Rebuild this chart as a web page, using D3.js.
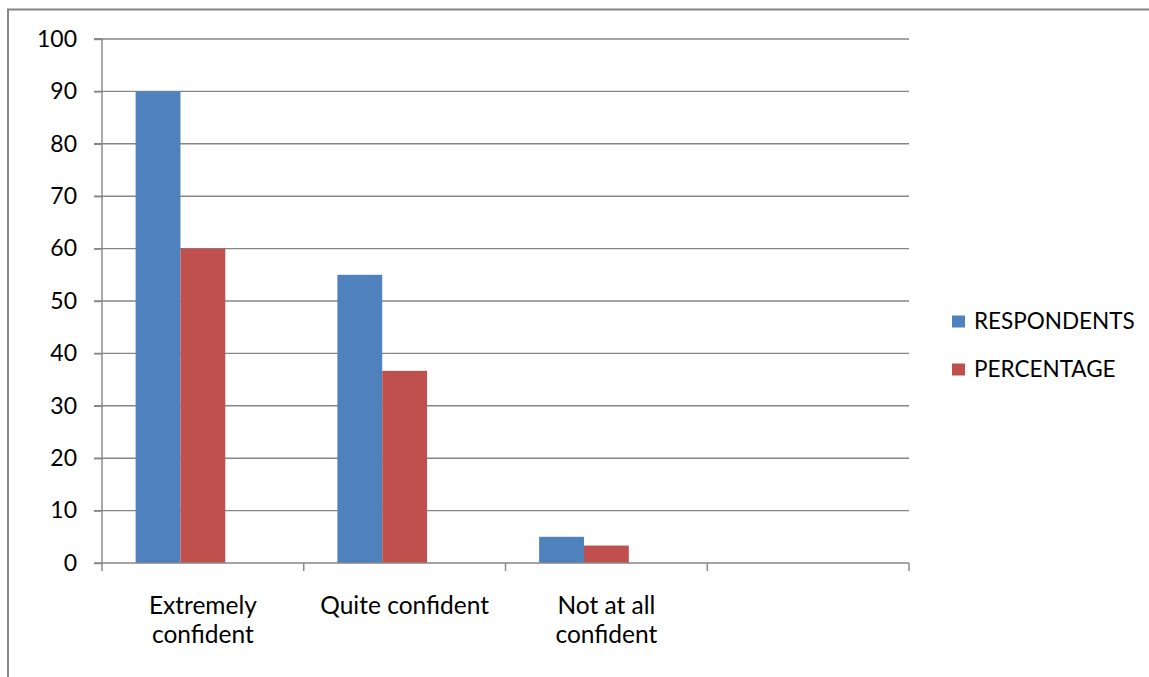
<!DOCTYPE html>
<html><head><meta charset="utf-8">
<script src="https://cdn.jsdelivr.net/npm/d3@7"></script>
<style>body{margin:0;background:#fff}svg{display:block}text{font-family:Lato,"Open Sans",sans-serif}</style>
</head><body>
<svg id="c" width="1149" height="677"></svg>
<script>
const categories = ["Extremely confident","Quite confident","Not at all confident",""];
const seriesNames = ["RESPONDENTS","PERCENTAGE"];
const respondents = [90,55,5,null];
const percentage = [60,36.67,3.33,null];
const yTicks = [0,10,20,30,40,50,60,70,80,90,100];
const colors = ["#4F81BD","#C0504D"];

(function(){
const svg = d3.select("#c");
const W=1149,H=677;
const pL=102,pR=909,pT=39,pB=563;
const fs=23, gridC="#868686";

svg.append("rect").attr("x",8).attr("y",9.5).attr("width",W+20).attr("height",H+20)
  .attr("fill","none").attr("stroke",gridC).attr("stroke-width",2);

const x = d3.scaleBand().domain(categories.map((c,i)=>i)).range([pL,pR]).padding(0);
const x1 = d3.scaleBand().domain([0,1,2]).range([0,x.bandwidth()]).paddingInner(0).paddingOuter(0.75);
const y = d3.scaleLinear().domain([0,100]).range([pB,pT]);

// gridlines
svg.append("g").selectAll("line").data(yTicks.filter(t=>t>0)).join("line")
  .attr("x1",pL-8).attr("x2",pR).attr("y1",d=>y(d)).attr("y2",d=>y(d))
  .attr("stroke",gridC).attr("stroke-width",1.4);

// bars
const vals=[respondents,percentage];
seriesNames.forEach((s,si)=>{
  svg.append("g").selectAll("rect").data(categories.map((c,i)=>({i,v:vals[si][i]})).filter(d=>d.v!=null)).join("rect")
    .attr("x",d=>x(d.i)+x1(si)).attr("width",x1.bandwidth())
    .attr("y",d=>y(d.v)).attr("height",d=>y(0)-y(d.v))
    .attr("fill",colors[si]);
});

// y axis
const yAxis = d3.axisLeft(y).tickValues(yTicks).tickSize(8).tickPadding(17);
const gy = svg.append("g").attr("transform",`translate(${pL},0)`).call(yAxis);
gy.select(".domain").attr("stroke",gridC).attr("stroke-width",1.4).attr("d",`M-8,${pT}H0V${pB}`);
gy.selectAll(".tick line").attr("stroke",gridC).attr("stroke-width",1.4);
gy.selectAll(".tick text").attr("font-size",fs).attr("font-family","Lato").attr("fill","#000");

// x axis
const xl = d3.scaleLinear().domain([0,categories.length]).range([pL,pR]);
const gx = svg.append("g").attr("transform",`translate(0,${pB})`);
gx.append("line").attr("x1",pL-8).attr("x2",pR).attr("stroke",gridC).attr("stroke-width",1.4);
gx.selectAll(".tk").data(d3.range(categories.length+1)).join("line").attr("class","tk")
  .attr("x1",d=>xl(d)).attr("x2",d=>xl(d)).attr("y1",0).attr("y2",8)
  .attr("stroke",gridC).attr("stroke-width",1.4);

// category labels with wrapping
const cfs=24.5;
categories.forEach((c,i)=>{
  if(!c) return;
  const cx = x(i)+x.bandwidth()/2;
  const t = gx.append("text").attr("text-anchor","middle").attr("font-size",cfs).attr("fill","#000");
  const words=c.split(" "); let line=[]; let lines=[];
  const tmp = t.append("tspan");
  words.forEach(w=>{
    const test=[...line,w].join(" ");
    tmp.text(test);
    if(tmp.node().getComputedTextLength()>190 && line.length){lines.push(line.join(" "));line=[w];}
    else line.push(w);
  });
  lines.push(line.join(" "));
  tmp.remove();
  lines.forEach((l,k)=>t.append("tspan").attr("x",cx).attr("y",51+k*29).text(l));
});

// legend
const lg = svg.append("g");
seriesNames.forEach((s,i)=>{
  const yy=321.5+i*48;
  lg.append("rect").attr("x",952).attr("y",yy-6).attr("width",13).attr("height",12).attr("fill",colors[i]);
  lg.append("text").attr("x",974).attr("y",yy).attr("dy","0.35em").attr("font-size",22.5).attr("fill","#000").text(s);
});
})();
</script>
</body></html>
